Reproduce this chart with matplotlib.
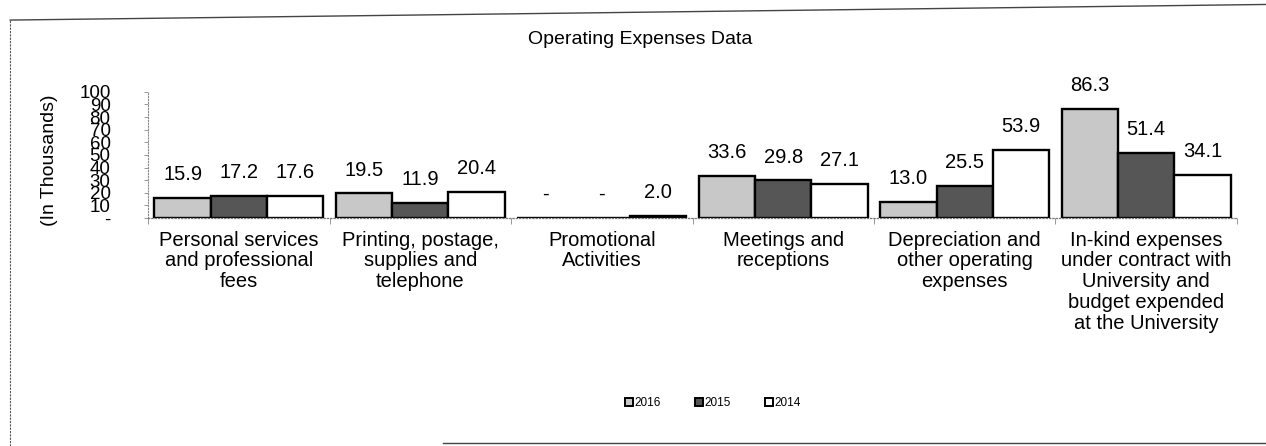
import matplotlib
matplotlib.use("Agg")
from matplotlib import pyplot as plt
from matplotlib.patches import Patch
from matplotlib.lines import Line2D
import numpy as np

plt.rcParams["font.family"] = ["Liberation Sans", "DejaVu Sans"]

categories = [
    "Personal services\nand professional\nfees",
    "Printing, postage,\nsupplies and\ntelephone",
    "Promotional\nActivities",
    "Meetings and\nreceptions",
    "Depreciation and\nother operating\nexpenses",
    "In-kind expenses\nunder contract with\nUniversity and\nbudget expended\nat the University",
]
years = ["2016", "2015", "2014"]
values_2016 = [15.9, 19.5, 0.0, 33.6, 13.0, 86.3]
values_2015 = [17.2, 11.9, 0.0, 29.8, 25.5, 51.4]
values_2014 = [17.6, 20.4, 2.0, 27.1, 53.9, 34.1]
y_ticks = [0, 10, 20, 30, 40, 50, 60, 70, 80, 90, 100]
y_tick_labels = ["-", "10", "20", "30", "40", "50", "60", "70", "80", "90", "100"]

colors = ["#c8c8c8", "#565656", "#ffffff"]

fig = plt.figure(figsize=(12.66, 4.46), dpi=100)
ax = fig.add_axes([0.117, 0.511, 0.860, 0.283])

x = np.arange(len(categories))
width = 0.31
series = [values_2016, values_2015, values_2014]
for i, (vals, col) in enumerate(zip(series, colors)):
    pos = x + (i - 1) * width
    ax.bar(pos, vals, width, color=col, edgecolor="black", linewidth=1.7)
    for px, v in zip(pos, vals):
        label = "-" if v == 0 else f"{v:.1f}"
        ax.annotate(label, (px, v), xytext=(0, 10), textcoords="offset points",
                    ha="center", va="bottom", fontsize=14.5)

ax.set_xlim(-0.5, len(categories) - 0.5)
ax.set_ylim(0, 100)
ax.set_yticks(y_ticks)
ax.set_yticklabels(y_tick_labels, fontsize=13.5)
ax.tick_params(axis="y", length=3, width=0.6, color="#888888", pad=24)

ax.set_xticks(x)
ax.set_xticklabels(categories, fontsize=14.5, linespacing=1.12)
ax.tick_params(axis="x", length=0, pad=9)
ax.set_xticks(np.arange(len(categories) + 1) - 0.5, minor=True)
ax.tick_params(axis="x", which="minor", length=4, width=0.6, color="#888888")

for side in ["top", "right"]:
    ax.spines[side].set_visible(False)
ax.spines["left"].set_linestyle(":")
ax.spines["left"].set_color("#888888")
ax.spines["left"].set_linewidth(0.8)
ax.spines["bottom"].set_linestyle(":")
ax.spines["bottom"].set_color("#777777")
ax.spines["bottom"].set_linewidth(0.9)

ax.set_ylabel("(In Thousands)", fontsize=14)
ax.yaxis.set_label_coords(-0.083, 0.46)

fig.text(0.506, 0.912, "Operating Expenses Data", ha="center", va="center", fontsize=14)

handles = [Patch(facecolor=c, edgecolor="black", linewidth=1.4) for c in colors]
fig.legend(handles, years, loc="center", bbox_to_anchor=(0.563, 0.096), ncol=3,
           frameon=False, fontsize=8.5, handlelength=0.7, handleheight=0.7,
           handletextpad=0.1, columnspacing=2.9)

# outer frame of the scanned chart
fig.add_artist(Line2D([0.008, 0.008], [0.0, 0.955], transform=fig.transFigure,
                      color="#555555", linewidth=0.8, linestyle=(0, (2, 1))))
fig.add_artist(Line2D([0.008, 1.0], [0.955, 0.99], transform=fig.transFigure,
                      color="#444444", linewidth=1.0))
fig.add_artist(Line2D([0.35, 1.0], [0.007, 0.007], transform=fig.transFigure,
                      color="#444444", linewidth=1.0))

fig.savefig("out.png", dpi=100)
